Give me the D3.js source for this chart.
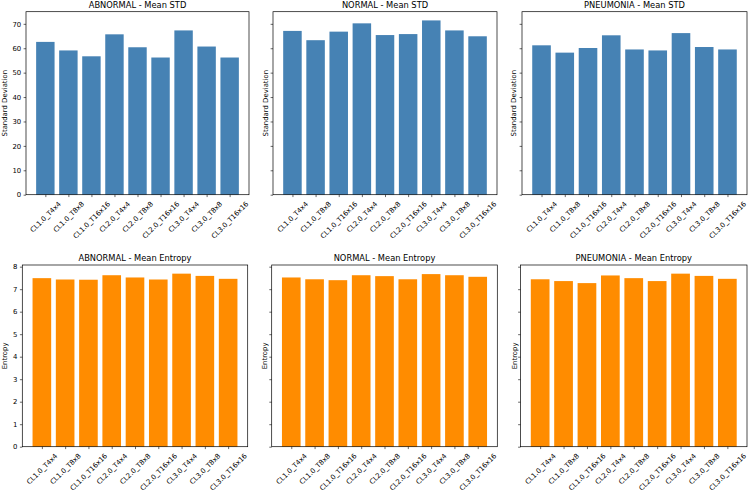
<!DOCTYPE html>
<html>
<head>
<meta charset="utf-8">
<script src="https://cdn.jsdelivr.net/npm/d3@7"></script>
<style>
  body { margin: 0; background: #fff; }
  svg text { font-family: "DejaVu Sans", sans-serif; fill: #000; }
</style>
</head>
<body>
<div id="chart"></div>
<script>
// data
var categories = ["CL1.0_T4x4", "CL1.0_T8x8", "CL1.0_T16x16", "CL2.0_T4x4", "CL2.0_T8x8",
                  "CL2.0_T16x16", "CL3.0_T4x4", "CL3.0_T8x8", "CL3.0_T16x16"];
var classes = ["ABNORMAL", "NORMAL", "PNEUMONIA"];

var stdAbnormal  = [62.6, 59.1, 56.7, 65.7, 60.4, 56.2, 67.3, 60.7, 56.2];
var stdNormal    = [67.1, 63.3, 66.8, 70.2, 65.4, 65.8, 71.4, 67.3, 64.9];
var stdPneumonia = [61.2, 58.2, 60.1, 65.3, 59.5, 59.1, 66.2, 60.5, 59.5];

var entAbnormal  = [7.49, 7.43, 7.42, 7.62, 7.52, 7.43, 7.69, 7.59, 7.46];
var entNormal    = [7.52, 7.44, 7.40, 7.62, 7.58, 7.44, 7.67, 7.62, 7.55];
var entPneumonia = [7.44, 7.36, 7.27, 7.61, 7.49, 7.36, 7.69, 7.59, 7.46];

var stdTicks = [0, 10, 20, 30, 40, 50, 60, 70];
var entTicks = [0, 1, 2, 3, 4, 5, 6, 7, 8];

var width = 750, height = 493;
var fs = 6.9;       // tick / label font
var titleFs = 8.3;

var svg = d3.select("#chart").append("svg")
    .attr("width", width)
    .attr("height", height);

// one row per metric; boxes are axes rectangles in pixels
var rows = [
  {
    metric: "Mean STD", ylabel: "Standard Deviation", color: "#4682b4",
    series: [stdAbnormal, stdNormal, stdPneumonia], ticks: stdTicks,
    boxes: [{x0: 26, x1: 249}, {x0: 273, x1: 497}, {x0: 522, x1: 747}],
    y0: 11.7, y1: 194.7, ylabelX: [4.7, 265.7, 514.3]
  },
  {
    metric: "Mean Entropy", ylabel: "Entropy", color: "#ff8c00",
    series: [entAbnormal, entNormal, entPneumonia], ticks: entTicks,
    boxes: [{x0: 22.3, x1: 247.7}, {x0: 271.7, x1: 497.3}, {x0: 520.5, x1: 747}],
    y0: 265, y1: 446.7, ylabelX: [4.7, 264.7, 514.7]
  }
];

rows.forEach(function (row) {
  // sharey: same range for the whole row, matplotlib 5% margin on top
  var ymax = d3.max(row.series, function (s) { return d3.max(s); }) * 1.05;

  row.series.forEach(function (values, c) {
    var box = row.boxes[c];
    var x = d3.scaleLinear().domain([-0.84, categories.length - 1 + 0.84]).range([box.x0, box.x1]);
    var y = d3.scaleLinear().domain([0, ymax]).range([row.y1, row.y0]);
    var g = svg.append("g");

    // bars
    g.selectAll("rect.bar")
        .data(values)
      .enter().append("rect")
        .attr("class", "bar")
        .attr("x", function (d, i) { return x(i - 0.4); })
        .attr("width", function (d, i) { return x(i + 0.4) - x(i - 0.4); })
        .attr("y", function (d) { return y(d); })
        .attr("height", function (d) { return y(0) - y(d); })
        .attr("fill", row.color);

    // y axis
    var yAxis = d3.axisLeft(y)
        .tickValues(row.ticks)
        .tickSize(2.4)
        .tickPadding(2.4)
        .tickFormat(c === 0 ? d3.format("d") : function () { return ""; });
    var ya = g.append("g")
        .attr("transform", "translate(" + box.x0 + ",0)")
        .call(yAxis);
    ya.select(".domain").remove();
    ya.selectAll("line").attr("stroke", "#000").attr("stroke-width", 0.6);
    ya.selectAll("text").style("font-size", fs + "px").attr("fill", "#000");

    // x axis, labels rotated 45 and centred on the tick (matplotlib ha=center)
    var xAxis = d3.axisBottom(x)
        .tickValues(d3.range(categories.length))
        .tickSize(2.4)
        .tickFormat(function (i) { return categories[i]; });
    var xa = g.append("g")
        .attr("transform", "translate(0," + row.y1 + ")")
        .call(xAxis);
    xa.select(".domain").remove();
    xa.selectAll("line").attr("stroke", "#000").attr("stroke-width", 0.6);
    xa.selectAll("text")
        .style("font-size", fs + "px")
        .attr("fill", "#000")
        .attr("text-anchor", "middle")
        .attr("dominant-baseline", "central")
        .attr("dy", null)
        .attr("y", 0)
        .attr("transform", function () {
          var w = this.getComputedTextLength();
          var half = (w + fs * 1.1) * 0.3536;
          return "translate(0," + (5.6 + half) + ") rotate(-45)";
        });

    // frame
    g.append("rect")
        .attr("x", box.x0)
        .attr("y", row.y0)
        .attr("width", box.x1 - box.x0)
        .attr("height", row.y1 - row.y0)
        .attr("fill", "none")
        .attr("stroke", "#000")
        .attr("stroke-width", 0.7);

    // title
    g.append("text")
        .attr("x", (box.x0 + box.x1) / 2)
        .attr("y", row.y0 - 3.6)
        .attr("text-anchor", "middle")
        .style("font-size", titleFs + "px")
        .text(classes[c] + " - " + row.metric);

    // y label
    var cy = (row.y0 + row.y1) / 2;
    g.append("text")
        .attr("transform", "translate(" + row.ylabelX[c] + "," + cy + ") rotate(-90)")
        .attr("text-anchor", "middle")
        .attr("dominant-baseline", "central")
        .style("font-size", fs + "px")
        .text(row.ylabel);
  });
});
</script>
</body>
</html>
